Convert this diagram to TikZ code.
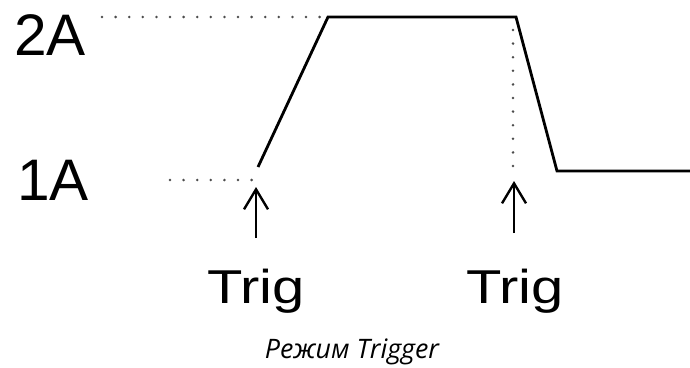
\documentclass[tikz,border=0pt]{standalone}
\usepackage{fontspec}
\setmainfont{Liberation Sans}
\newfontfamily\trigfont[FakeStretch=1.22]{Liberation Sans}
\newfontfamily\capfont{Open Sans}
\usetikzlibrary{arrows.meta}
\tikzset{
  wave/.style={line width=2.8pt, line join=miter},
  dots/.style={line width=2.8pt, gray!60!black, line cap=round, dash pattern=on 0pt off 13.6pt},
  trigarrow/.style={line width=2.4pt, -{Straight Barb[length=20pt,width=24pt]}},
  level/.style={anchor=base west, inner sep=0pt, font=\fontsize{58.6}{60}\selectfont},
  triglabel/.style={anchor=base, inner sep=0pt, font=\trigfont\fontsize{47.5}{50}\selectfont},
}
\begin{document}
\begin{tikzpicture}[x=1pt,y=-1pt]
\useasboundingbox (0,0) rectangle (690,367);

% current levels
\node[level] (twoA) at (14,55) {2A};
\node[level] (oneA) at (17,200) {1A};

% dotted guides
\coordinate (d2s) at (102,17);
\coordinate (d2e) at (322,17);
\coordinate (d1s) at (170,180);
\coordinate (d1e) at (256,180);
\coordinate (dvs) at (513,30);
\coordinate (dve) at (513,178);
\draw[dots] (d2s) -- (d2e);
\draw[dots] (d1s) -- (d1e);
\draw[dots] (dvs) -- (dve);

% output waveform
\coordinate (w0) at (258,167);
\coordinate (w1) at (328,17);
\coordinate (w2) at (516,17);
\coordinate (w3) at (557,171);
\coordinate (w4) at (690,171);
\draw[wave] (w0) -- (w1) -- (w2) -- (w3) -- (w4);

% trigger events
\coordinate (t1b) at (256,238);
\coordinate (t1a) at (256,187);
\coordinate (t2b) at (514,233);
\coordinate (t2a) at (514,181);
\draw[trigarrow] (t1b) -- (t1a);
\draw[trigarrow] (t2b) -- (t2a);
\node[triglabel] (trigA) at (256,303) {Trig};
\node[triglabel] (trigB) at (515,303) {Trig};

\node[anchor=base, inner sep=0pt, font=\capfont\itshape\fontsize{26.8}{28}\selectfont] (caption) at (352,358) {Режим Trigger};
\end{tikzpicture}
\end{document}
